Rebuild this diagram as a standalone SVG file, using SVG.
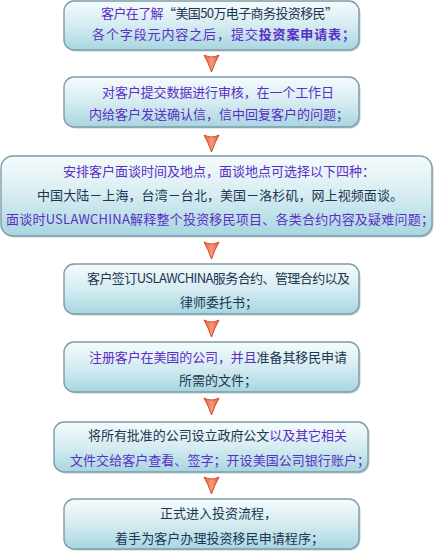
<svg xmlns="http://www.w3.org/2000/svg" width="434" height="552" viewBox="0 0 434 552">
<defs>
<linearGradient id="boxg" x1="0" y1="0" x2="0" y2="1">
<stop offset="0" stop-color="#f6fbfc"/>
<stop offset="0.5" stop-color="#d5ecf1"/>
<stop offset="1" stop-color="#a7d6e0"/>
</linearGradient>
<linearGradient id="arrg" x1="0" y1="0" x2="1" y2="0">
<stop offset="0" stop-color="#e8603c"/>
<stop offset="0.5" stop-color="#f6977a"/>
<stop offset="1" stop-color="#e8603c"/>
</linearGradient>
<path id="arr" d="M-7.5,0 Q0,4 7.5,0 Q3,8 0,17 Q-3,8 -7.5,0 Z"/>
</defs>
<style>
.box{fill:url(#boxg);stroke:#7e9ca8;stroke-width:1.4}
.sh{fill:#9fb2b8;opacity:0.6}
text{font-family:"Noto Sans CJK SC","Noto Sans",sans-serif;font-size:13px}
.p{fill:#5b2ec6}
.n{fill:#1c3553}
.b{font-weight:bold}
.a{fill:url(#arrg);stroke:#d24a26;stroke-width:1}
</style>
<rect width="434" height="552" fill="#ffffff"/>

<g id="connectors">
<use href="#arr" class="a" x="211.5" y="55"/>
<use href="#arr" class="a" x="211.5" y="135"/>
<use href="#arr" class="a" x="211.5" y="242"/>
<use href="#arr" class="a" x="211.5" y="320"/>
<use href="#arr" class="a" x="211.5" y="398"/>
<use href="#arr" class="a" x="211.5" y="477"/>
</g>

<g id="node1">
<rect class="sh" x="65.5" y="2.5" width="295" height="49" rx="10"/>
<rect class="box" x="64" y="1" width="295" height="49" rx="10"/>
<text x="101" y="18" textLength="237" lengthAdjust="spacing"><tspan class="p">客户在了解</tspan><tspan class="n">“美国50万电子商务投资移民”</tspan></text>
<text x="92" y="39" textLength="263" lengthAdjust="spacing" class="p">各个字段元内容之后，提交<tspan class="b">投资案申请表；</tspan></text>
</g>

<g id="node2">
<rect class="sh" x="65.5" y="78.5" width="295" height="50" rx="10"/>
<rect class="box" x="64" y="77" width="295" height="50" rx="10"/>
<text x="102" y="97" textLength="232" lengthAdjust="spacing" class="p">对客户提交数据进行审核，在一个工作日</text>
<text x="89" y="119" textLength="260" lengthAdjust="spacing" class="p">内给客户发送确认信，信中回复客户的问题；</text>
</g>

<g id="node3">
<rect class="sh" x="2.5" y="157.5" width="431" height="80" rx="12"/>
<rect class="box" x="1" y="156" width="431" height="80" rx="12"/>
<text x="63" y="176" textLength="312" lengthAdjust="spacing" class="p">安排客户面谈时间及地点，面谈地点可选择以下四种：</text>
<text x="37" y="200" textLength="366" lengthAdjust="spacing" class="n">中国大陆－上海，台湾－台北，美国－洛杉矶，网上视频面谈。</text>
<text x="6" y="224" textLength="428" lengthAdjust="spacing" class="p">面谈时USLAWCHINA解释整个投资移民项目、各类合约内容及疑难问题；</text>
</g>

<g id="node4">
<rect class="sh" x="65.5" y="265.5" width="295" height="50" rx="10"/>
<rect class="box" x="64" y="264" width="295" height="50" rx="10"/>
<text x="87" y="283" textLength="263" lengthAdjust="spacing" class="n">客户签订USLAWCHINA服务合约、管理合约以及</text>
<text x="180" y="307" class="n">律师委托书；</text>
</g>

<g id="node5">
<rect class="sh" x="65.5" y="343.5" width="295" height="50" rx="10"/>
<rect class="box" x="64" y="342" width="295" height="50" rx="10"/>
<text x="89" y="362" textLength="258" lengthAdjust="spacing"><tspan class="p">注册客户在美国的公司，并且</tspan><tspan class="n">准备其移民申请</tspan></text>
<text x="179" y="385" class="n">所需的文件；</text>
</g>

<g id="node6">
<rect class="sh" x="55.5" y="423.5" width="314" height="50" rx="10"/>
<rect class="box" x="54" y="422" width="314" height="50" rx="10"/>
<text x="88" y="440" textLength="259" lengthAdjust="spacing"><tspan class="n">将所有批准的公司设立政府公文</tspan><tspan class="p">以及其它相关</tspan></text>
<text x="70" y="465" textLength="300" lengthAdjust="spacing" class="p">文件交给客户查看、签字；开设美国公司银行账户；</text>
</g>

<g id="node7">
<rect class="sh" x="65.5" y="500.5" width="295" height="50" rx="10"/>
<rect class="box" x="64" y="499" width="295" height="50" rx="10"/>
<text x="160" y="518" class="n">正式进入投资流程，</text>
<text x="115" y="543" textLength="209" lengthAdjust="spacing" class="n">着手为客户办理投资移民申请程序；</text>
</g>
</svg>
